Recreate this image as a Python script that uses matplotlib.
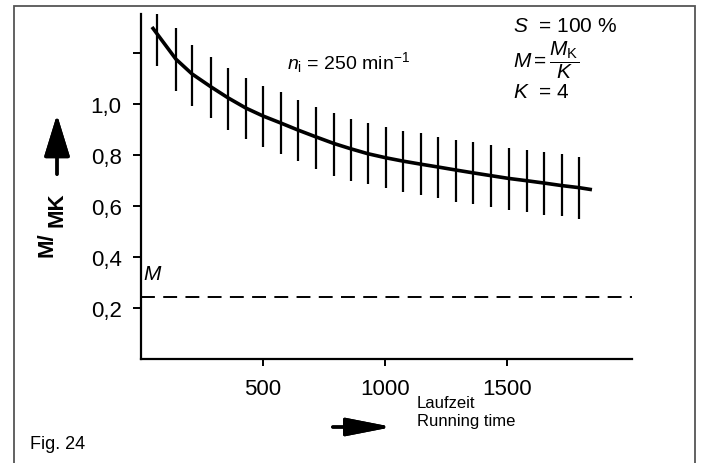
import matplotlib
matplotlib.use("Agg")
import matplotlib.pyplot as plt
from matplotlib.patches import Rectangle

plt.rcParams['font.family'] = ['Liberation Sans', 'DejaVu Sans']
plt.rcParams['mathtext.fontset'] = 'custom'
plt.rcParams['mathtext.rm'] = 'Liberation Sans'
plt.rcParams['mathtext.it'] = 'Liberation Sans:italic'
plt.rcParams['mathtext.bf'] = 'Liberation Sans:bold'
plt.rcParams['lines.scale_dashes'] = False

# ---- data ----
curve_x = [45, 66, 143, 209, 287, 357, 430, 500, 574, 643, 717, 791, 861, 930,
           1004, 1074, 1147, 1217, 1291, 1361, 1434, 1508, 1582, 1652, 1725, 1795, 1848]
curve_y = [1.302, 1.275, 1.176, 1.118, 1.067, 1.024, 0.984, 0.953, 0.925, 0.898,
           0.871, 0.845, 0.824, 0.805, 0.789, 0.776, 0.764, 0.753, 0.741, 0.730,
           0.719, 0.708, 0.699, 0.690, 0.680, 0.672, 0.664]

bar_x = [66, 143, 209, 287, 357, 430, 500, 574, 643, 717, 791, 861, 930,
         1004, 1074, 1147, 1217, 1291, 1361, 1434, 1508, 1582, 1652, 1725, 1795]
bar_hi = [1.353, 1.298, 1.231, 1.184, 1.141, 1.102, 1.071, 1.047, 1.016, 0.988,
          0.965, 0.941, 0.925, 0.910, 0.894, 0.886, 0.871, 0.859, 0.851, 0.839,
          0.827, 0.820, 0.812, 0.804, 0.792]
bar_lo = [1.149, 1.051, 0.992, 0.945, 0.898, 0.863, 0.831, 0.804, 0.776, 0.745,
          0.718, 0.698, 0.686, 0.671, 0.655, 0.643, 0.631, 0.616, 0.608, 0.596,
          0.584, 0.576, 0.565, 0.561, 0.549]

m_level = 0.245
m_line_x = [0, 2010]

yticks = [0.2, 0.4, 0.6, 0.8, 1.0, 1.2]
ytick_labels = ['0,2', '0,4', '0,6', '0,8', '1,0', '']
xticks = [500, 1000, 1500]
xtick_labels = ['500', '1000', '1500']

W, H = 704, 464
fig = plt.figure(figsize=(W / 100, H / 100), dpi=100)
fig.patch.set_facecolor('white')

# outer frame
fig.add_artist(Rectangle((14 / W, -0.05), (695 - 14) / W, 1.05 - 7 / H,
                         transform=fig.transFigure, fill=False,
                         edgecolor='#555555', lw=1.3))

ax = fig.add_axes([141 / W, 1 - 360 / H, 490.5 / W, 345 / H])
ax.set_xlim(0, 2010)
ax.set_ylim(0, 1.353)
for s in ['top', 'right']:
    ax.spines[s].set_visible(False)
for s in ['left', 'bottom']:
    ax.spines[s].set_linewidth(1.6)
    ax.spines[s].set_color('black')

ax.set_yticks(yticks)
ax.set_yticklabels(ytick_labels)
ax.set_xticks(xticks)
ax.set_xticklabels(xtick_labels)
ax.tick_params(axis='y', direction='out', length=6, width=1.4, pad=8, labelsize=16)
ax.tick_params(axis='x', direction='out', length=5, width=1.4, pad=9, labelsize=16)

ax.vlines(bar_x, bar_lo, bar_hi, colors='black', lw=1.6)
ax.plot(curve_x, curve_y, color='black', lw=2.6, solid_capstyle='butt')
ax.plot(m_line_x, [m_level, m_level], color='black', lw=1.4, dashes=(10, 6))

ax.text(8, 0.335, 'M', fontsize=15, style='italic', ha='left', va='center')

# annotations
fig.text(287 / W, 1 - 63 / H, r'$n_{\mathrm{i}}$ = 250 min$^{\mathrm{-1}}$',
         fontsize=14, ha='left', va='center')
fig.text(513 / W, 1 - 27 / H, r'$S$  = 100 %', fontsize=15, ha='left', va='center')
fig.text(513 / W, 1 - 60 / H, r'$M = \dfrac{M_{\mathrm{K}}}{K}$', fontsize=15,
         ha='left', va='center')
fig.text(513 / W, 1 - 93 / H, r'$K$  = 4', fontsize=15, ha='left', va='center')

# y label with arrow
fig.text(47 / W, 1 - 245 / H, 'M/', rotation=90, fontsize=16, fontweight='bold',
         ha='center', va='center')
fig.text(57 / W, 1 - 210 / H, 'MK', rotation=90, fontsize=16, fontweight='bold',
         ha='center', va='center')
fig.add_artist(plt.annotate('', xy=(57, H - 113), xytext=(57, H - 178),
                            xycoords='figure pixels', textcoords='figure pixels',
                            arrowprops=dict(arrowstyle='-|>,head_length=2.6,head_width=0.8',
                                            lw=2.4, color='black', mutation_scale=10)))

# x label with arrow
fig.add_artist(plt.annotate('', xy=(395, H - 428), xytext=(330, H - 428),
                            xycoords='figure pixels', textcoords='figure pixels',
                            arrowprops=dict(arrowstyle='-|>,head_length=2.8,head_width=0.55',
                                            lw=2.4, color='black', mutation_scale=10)))
fig.text(417 / W, 1 - 404 / H, 'Laufzeit', fontsize=12, ha='left', va='center')
fig.text(417 / W, 1 - 422 / H, 'Running time', fontsize=12, ha='left', va='center')

fig.text(30 / W, 1 - 445 / H, 'Fig. 24', fontsize=13, ha='left', va='center')

fig.savefig('out.png', dpi=100)
